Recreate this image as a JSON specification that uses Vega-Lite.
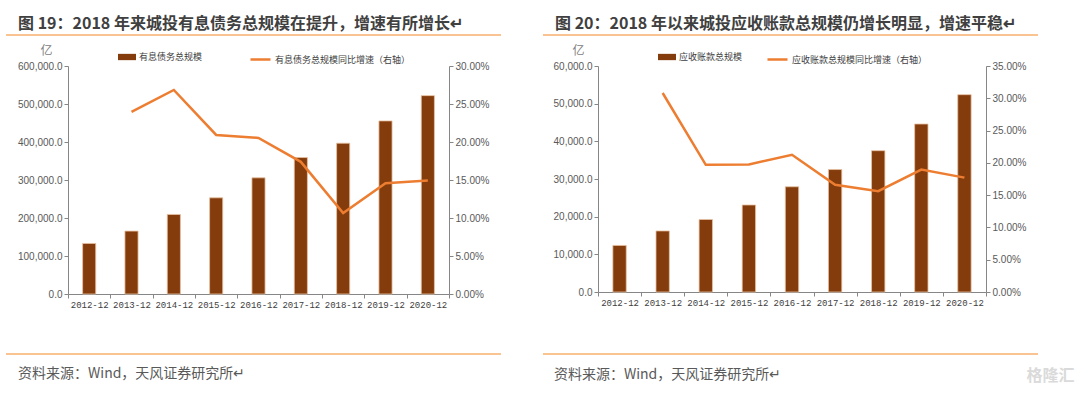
{
  "$schema": "https://vega.github.io/schema/vega-lite/v6.json",
  "background": "white",
  "padding": {"left": 5, "top": 16, "right": 0, "bottom": 0},
  "config": {
    "view": {"stroke": null},
    "axis": {"grid": false, "domainColor": "#868686", "tickColor": "#868686", "tickSize": 4, "labelColor": "#595959", "labelFont": "Liberation Sans", "labelFontSize": 10}
  },
  "spacing": 8,
  "vconcat": [
    {
      "spacing": 149,
      "bounds": "flush",
      "hconcat": [
        {
          "width": 381, "height": 1,
          "data": {"values": [{}]},
          "title": {"text": "图 19：2018 年来城投有息债务总规模在提升，增速有所增长↵", "anchor": "start", "frame": "group", "font": "Noto Sans CJK SC", "fontSize": 16, "fontWeight": "bold", "color": "#404040", "offset": 2, "dx": -50},
          "mark": {"type": "rule", "color": "#F7B06E", "strokeWidth": 1.5},
          "encoding": {
            "x": {"datum": 0, "type": "quantitative", "scale": {"domain": [0, 1], "range": [-62, 433]}, "axis": null},
            "x2": {"datum": 1},
            "y": {"datum": 0, "type": "quantitative", "scale": {"domain": [0, 1]}, "axis": null}
          }
        },
        {
          "width": 388, "height": 1,
          "data": {"values": [{}]},
          "title": {"text": "图 20：2018 年以来城投应收账款总规模仍增长明显，增速平稳↵", "anchor": "start", "frame": "group", "font": "Noto Sans CJK SC", "fontSize": 16, "fontWeight": "bold", "color": "#404040", "offset": 2, "dx": -43},
          "mark": {"type": "rule", "color": "#F7B06E", "strokeWidth": 1.5},
          "encoding": {
            "x": {"datum": 0, "type": "quantitative", "scale": {"domain": [0, 1], "range": [-55, 440]}, "axis": null},
            "x2": {"datum": 1},
            "y": {"datum": 0, "type": "quantitative", "scale": {"domain": [0, 1]}, "axis": null}
          }
        }
      ]
    },
    {
      "spacing": 149,
      "bounds": "flush",
      "resolve": {"scale": {"fill": "independent", "stroke": "independent"}, "legend": {"fill": "independent", "stroke": "independent"}},
      "hconcat": [
        {
          "width": 381, "height": 228,
          "data": {"values": [
            {"date": "2012-12", "debt": 133000, "growth": null},
            {"date": "2013-12", "debt": 165500, "growth": 0.2396},
            {"date": "2014-12", "debt": 209300, "growth": 0.2685},
            {"date": "2015-12", "debt": 253100, "growth": 0.2093},
            {"date": "2016-12", "debt": 305700, "growth": 0.2054},
            {"date": "2017-12", "debt": 359100, "growth": 0.1739},
            {"date": "2018-12", "debt": 396800, "growth": 0.1064},
            {"date": "2019-12", "debt": 455500, "growth": 0.1458},
            {"date": "2020-12", "debt": 522000, "growth": 0.1493}
          ]},
          "encoding": {
            "x": {"field": "date", "type": "ordinal", "sort": null, "scale": {"paddingInner": 0, "paddingOuter": 0},
                  "axis": {"title": null, "labelAngle": 0, "labelFont": "Liberation Mono", "labelFontSize": 9, "labelColor": "#404040", "tickBand": "extent", "labelPadding": 2}}
          },
          "layer": [
            {
              "mark": {"type": "bar", "width": {"band": 0.31}, "stroke": "#E9C2A2", "strokeWidth": 0.8},
              "encoding": {
                "y": {"field": "debt", "type": "quantitative", "scale": {"domain": [0, 600000]},
                      "axis": {"orient": "left", "values": [0, 100000, 200000, 300000, 400000, 500000, 600000], "format": ",.1f", "labelPadding": 2,
                               "title": "亿", "titleAngle": 0, "titleX": -22, "titleY": -16, "titleAlign": "center", "titleBaseline": "middle", "titleFont": "Noto Sans CJK SC", "titleFontSize": 12, "titleFontWeight": "normal", "titleColor": "#808080"}},
                "fill": {"datum": "有息债务总规模", "type": "nominal", "scale": {"range": ["#843C0C"]},
                         "legend": {"orient": "none", "legendX": 50, "legendY": -18, "title": null, "symbolType": "M-1,-0.35L1,-0.35L1,0.35L-1,0.35Z", "symbolSize": 324, "symbolStrokeWidth": 0, "labelFont": "Noto Sans CJK SC", "labelFontSize": 9, "labelColor": "#404040", "labelOffset": 3, "padding": 0}}
              }
            },
            {
              "mark": {"type": "line", "strokeWidth": 2.5},
              "encoding": {
                "y": {"field": "growth", "type": "quantitative", "scale": {"domain": [0, 0.3]},
                      "axis": {"orient": "right", "values": [0, 0.05, 0.1, 0.15, 0.2, 0.25, 0.3], "format": ".2%", "title": null, "labelPadding": 2}},
                "stroke": {"datum": "有息债务总规模同比增速（右轴）", "type": "nominal", "scale": {"range": ["#ED7D31"]},
                           "legend": {"orient": "none", "legendX": 181, "legendY": -18, "title": null, "symbolType": "stroke", "symbolSize": 400, "symbolStrokeWidth": 2.5, "labelFont": "Noto Sans CJK SC", "labelFontSize": 9, "labelColor": "#404040", "labelOffset": 3, "padding": 0}}
              }
            }
          ],
          "resolve": {"scale": {"y": "independent"}}
        },
        {
          "width": 388, "height": 226,
          "data": {"values": [
            {"date": "2012-12", "ar": 12360, "growth": null},
            {"date": "2013-12", "ar": 16210, "growth": 0.3082},
            {"date": "2014-12", "ar": 19250, "growth": 0.1969},
            {"date": "2015-12", "ar": 23100, "growth": 0.1975},
            {"date": "2016-12", "ar": 27940, "growth": 0.2126},
            {"date": "2017-12", "ar": 32510, "growth": 0.1661},
            {"date": "2018-12", "ar": 37520, "growth": 0.1562},
            {"date": "2019-12", "ar": 44600, "growth": 0.1896},
            {"date": "2020-12", "ar": 52390, "growth": 0.1771}
          ]},
          "encoding": {
            "x": {"field": "date", "type": "ordinal", "sort": null, "scale": {"paddingInner": 0, "paddingOuter": 0},
                  "axis": {"title": null, "labelAngle": 0, "labelFont": "Liberation Mono", "labelFontSize": 9, "labelColor": "#404040", "tickBand": "extent", "labelPadding": 2}}
          },
          "layer": [
            {
              "mark": {"type": "bar", "width": {"band": 0.31}, "stroke": "#E9C2A2", "strokeWidth": 0.8},
              "encoding": {
                "y": {"field": "ar", "type": "quantitative", "scale": {"domain": [0, 60000]},
                      "axis": {"orient": "left", "values": [0, 10000, 20000, 30000, 40000, 50000, 60000], "format": ",.1f", "labelPadding": 2,
                               "title": "亿", "titleAngle": 0, "titleX": -20, "titleY": -16, "titleAlign": "center", "titleBaseline": "middle", "titleFont": "Noto Sans CJK SC", "titleFontSize": 12, "titleFontWeight": "normal", "titleColor": "#808080"}},
                "fill": {"datum": "应收账款总规模", "type": "nominal", "scale": {"range": ["#843C0C"]},
                         "legend": {"orient": "none", "legendX": 60, "legendY": -18, "title": null, "symbolType": "M-1,-0.35L1,-0.35L1,0.35L-1,0.35Z", "symbolSize": 324, "symbolStrokeWidth": 0, "labelFont": "Noto Sans CJK SC", "labelFontSize": 9, "labelColor": "#404040", "labelOffset": 3, "padding": 0}}
              }
            },
            {
              "mark": {"type": "line", "strokeWidth": 2.5},
              "encoding": {
                "y": {"field": "growth", "type": "quantitative", "scale": {"domain": [0, 0.35]},
                      "axis": {"orient": "right", "values": [0, 0.05, 0.1, 0.15, 0.2, 0.25, 0.3, 0.35], "format": ".2%", "title": null, "labelPadding": 2}},
                "stroke": {"datum": "应收账款总规模同比增速（右轴）", "type": "nominal", "scale": {"range": ["#ED7D31"]},
                           "legend": {"orient": "none", "legendX": 168, "legendY": -18, "title": null, "symbolType": "stroke", "symbolSize": 400, "symbolStrokeWidth": 2.5, "labelFont": "Noto Sans CJK SC", "labelFontSize": 9, "labelColor": "#404040", "labelOffset": 3, "padding": 0}}
              }
            }
          ],
          "resolve": {"scale": {"y": "independent"}}
        }
      ]
    },
    {
      "spacing": 149,
      "bounds": "flush",
      "hconcat": [
        {
          "width": 381, "height": 37,
          "data": {"values": [{}]},
          "title": {"text": "资料来源：Wind，天风证券研究所↵", "orient": "bottom", "anchor": "start", "frame": "group", "font": "Noto Sans CJK SC", "fontSize": 14, "fontWeight": "normal", "color": "#595959", "offset": 12, "dx": -50},
          "mark": {"type": "rule", "color": "#F7B06E", "strokeWidth": 1.5},
          "encoding": {
            "x": {"datum": 0, "type": "quantitative", "scale": {"domain": [0, 1], "range": [-62, 433]}, "axis": null},
            "x2": {"datum": 1},
            "y": {"datum": 0, "type": "quantitative", "scale": {"domain": [0, 1]}, "axis": null}
          }
        },
        {
          "width": 388, "height": 37,
          "data": {"values": [{}]},
          "encoding": {
            "x": {"datum": 0, "type": "quantitative", "scale": {"domain": [0, 1], "range": [-55, 440]}, "axis": null},
            "y": {"datum": 0, "type": "quantitative", "scale": {"domain": [0, 1]}, "axis": null}
          },
          "layer": [
            {
              "mark": {"type": "rule", "color": "#F7B06E", "strokeWidth": 1.5},
              "encoding": {"x2": {"datum": 1}}
            },
            {
              "mark": {"type": "text", "text": "资料来源：Wind，天风证券研究所↵", "font": "Noto Sans CJK SC", "fontSize": 14, "color": "#595959", "align": "left", "baseline": "middle"},
              "encoding": {
                "x": {"datum": 0.022, "type": "quantitative"},
                "y": {"datum": -0.57, "type": "quantitative"}
              }
            },
            {
              "mark": {"type": "text", "text": "格隆汇", "font": "Noto Sans CJK SC", "fontSize": 16, "fontWeight": "bold", "color": "#DADADA", "align": "center", "baseline": "middle"},
              "encoding": {
                "x": {"datum": 1.025, "type": "quantitative"},
                "y": {"datum": -0.6, "type": "quantitative"}
              }
            }
          ]
        }
      ]
    }
  ]
}
